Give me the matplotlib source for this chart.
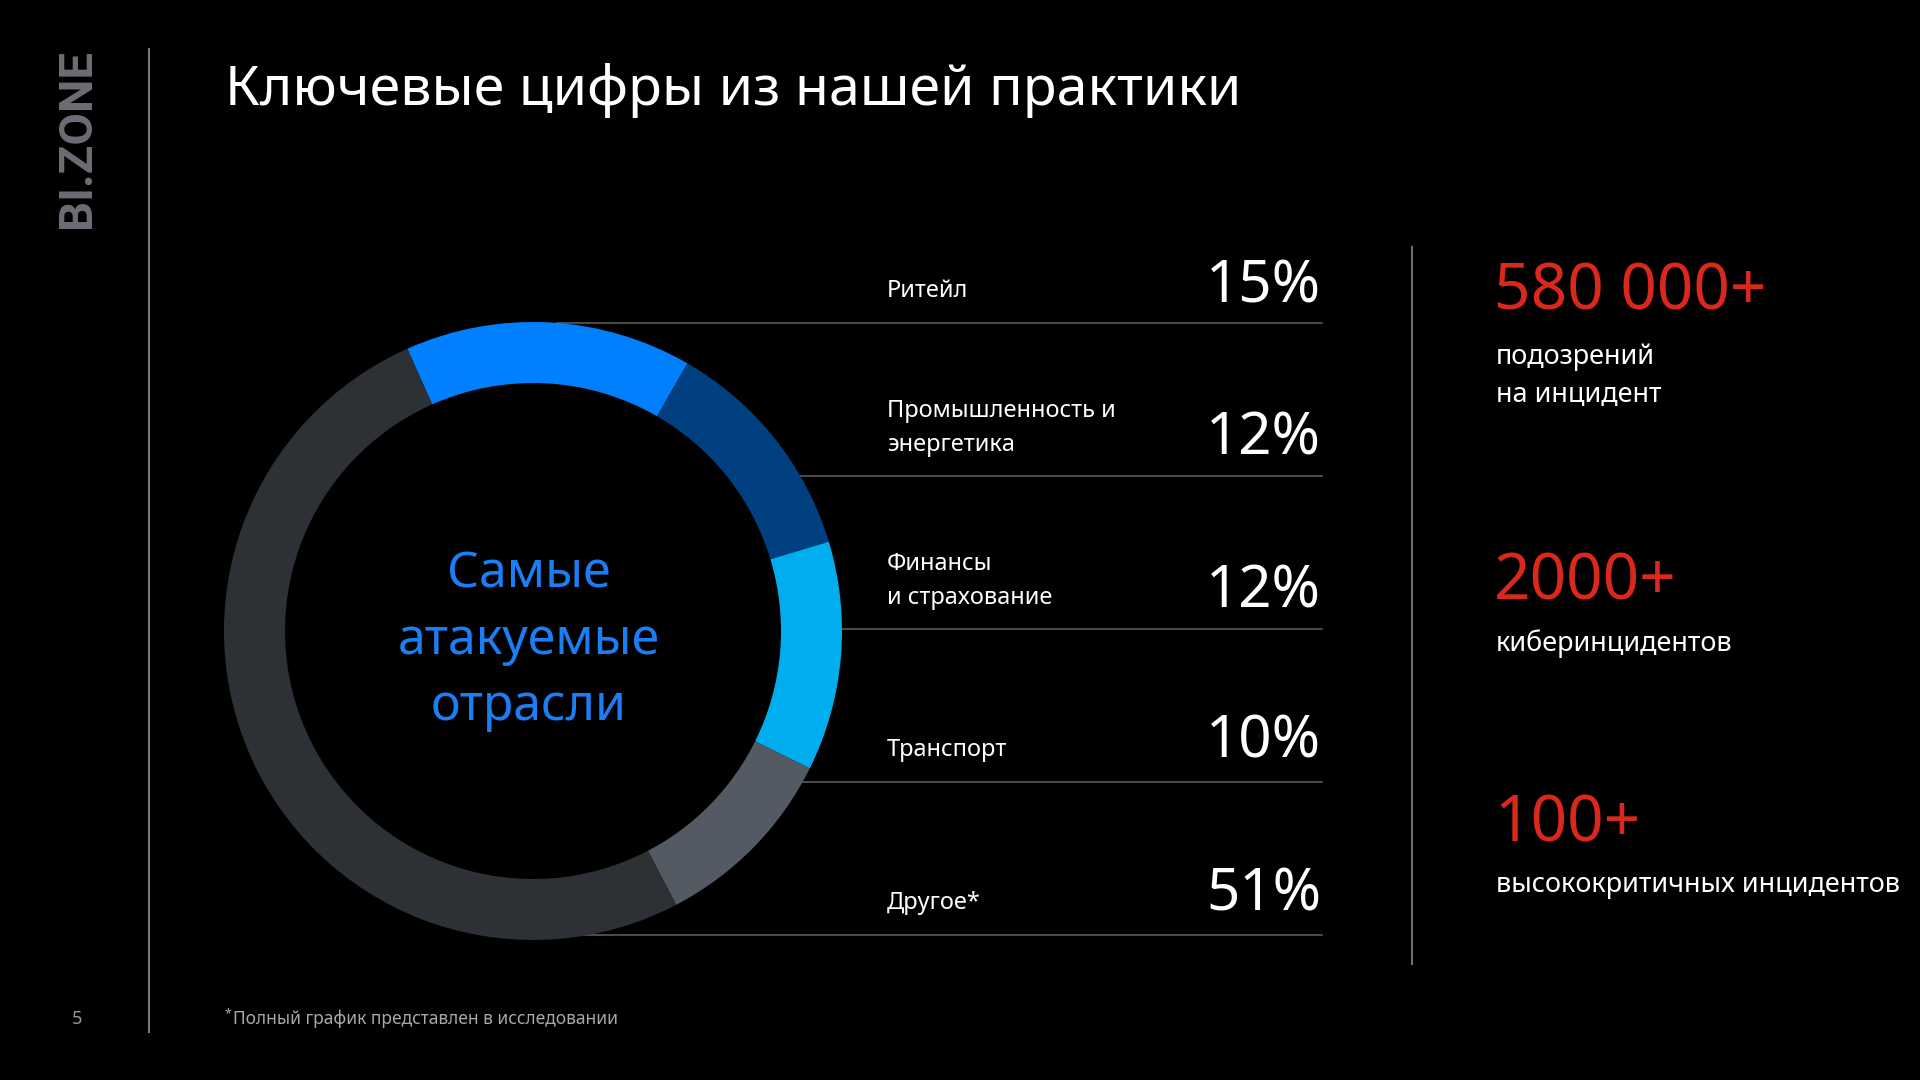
import matplotlib
matplotlib.use("Agg")
import matplotlib.pyplot as plt
from matplotlib.patches import Circle

# --- data ---
sectors = ['Ритейл', 'Промышленность и\nэнергетика', 'Финансы\nи страхование', 'Транспорт', 'Другое*']
shares = [15, 12, 12, 10, 51]
share_labels = ['15%', '12%', '12%', '10%', '51%']
sector_colors = ['#0080FF', '#003F80', '#00AEEF', '#545A64', '#2D3135']

stat_values = ['580 000+', '2000+', '100+']
stat_texts = ['подозрений\nна инцидент', 'киберинцидентов', 'высококритичных инцидентов']

title = 'Ключевые цифры из нашей практики'
center_text = 'Самые\nатакуемые\nотрасли'
footnote = 'Полный график представлен в исследовании'

plt.rcParams['font.family'] = ['Noto Sans', 'DejaVu Sans']

W, H = 1920, 1080
fig = plt.figure(figsize=(19.2, 10.8), dpi=100, facecolor='black')
ax = fig.add_axes([0, 0, 1, 1])
ax.set_facecolor('black')


def Y(y):
    # positions measured from the top of the slide
    return H - y


# donut
cx, cy, r, ring = 533, 631, 309, 61
ax.pie(shares, colors=sector_colors, startangle=114, counterclock=False,
       radius=r, center=(cx, Y(cy)),
       wedgeprops=dict(width=ring, linewidth=0), frame=False)
for w in ax.patches:
    w.set_zorder(3)
# black hole so the row lines don't show inside
ax.add_patch(Circle((cx, Y(cy)), r - ring + 1, color='black', zorder=2))

ax.text(cx - 4, Y(cy + 10), center_text, color='#1A7EF5', fontsize=36,
        ha='center', va='center', linespacing=1.43, zorder=4)

# separator rows
row_lines = [323, 476, 629, 782, 935]
label_y = [291, 428, 581, 750, 903]
pct_y = [287, 439, 592, 742, 895]
for i in range(len(sectors)):
    ax.plot([557, 1322], [Y(row_lines[i])] * 2, color='#5A5A5A', lw=1.2, zorder=1)
    ax.text(887, Y(label_y[i]), sectors[i], color='white', fontsize=17,
            ha='left', va='center', linespacing=1.55)
    ax.text(1321, Y(pct_y[i]), share_labels[i], color='white', fontsize=42,
            ha='right', va='center', fontweight='light')

# right block
ax.plot([1412, 1412], [Y(247), Y(964)], color='#6E6E6E', lw=1.5)
stat_y = [293, 582, 824]
text_y = [376, 644, 885]
for i in range(len(stat_values)):
    ax.text(1494, Y(stat_y[i]), stat_values[i], color='#DA291C', fontsize=46,
            ha='left', va='center')
    ax.text(1496, Y(text_y[i]), stat_texts[i], color='white', fontsize=19.5,
            ha='left', va='center', linespacing=1.5)

# frame elements
ax.text(225, Y(90), title, color='white', fontsize=40, ha='left', va='center')
ax.plot([149, 149], [Y(49), Y(1032)], color='#7A7A7A', lw=1.5)
ax.text(77, Y(138), 'BI.ZONE', color='#6D6E75', fontsize=34, fontweight='bold',
        rotation=90, ha='center', va='center', family=['Roboto', 'DejaVu Sans'])
ax.text(77, Y(1019), '5', color='#9A9A9A', fontsize=13, ha='center', va='center')
ax.text(224, Y(1014), '*', color='#A8A8A8', fontsize=9, ha='left', va='center')
ax.text(233, Y(1019), footnote, color='#A8A8A8', fontsize=12.5, ha='left', va='center')

ax.set_xlim(0, W)
ax.set_ylim(0, H)
ax.set_aspect('auto')
ax.axis('off')

fig.savefig('out.png', dpi=100, facecolor='black')
